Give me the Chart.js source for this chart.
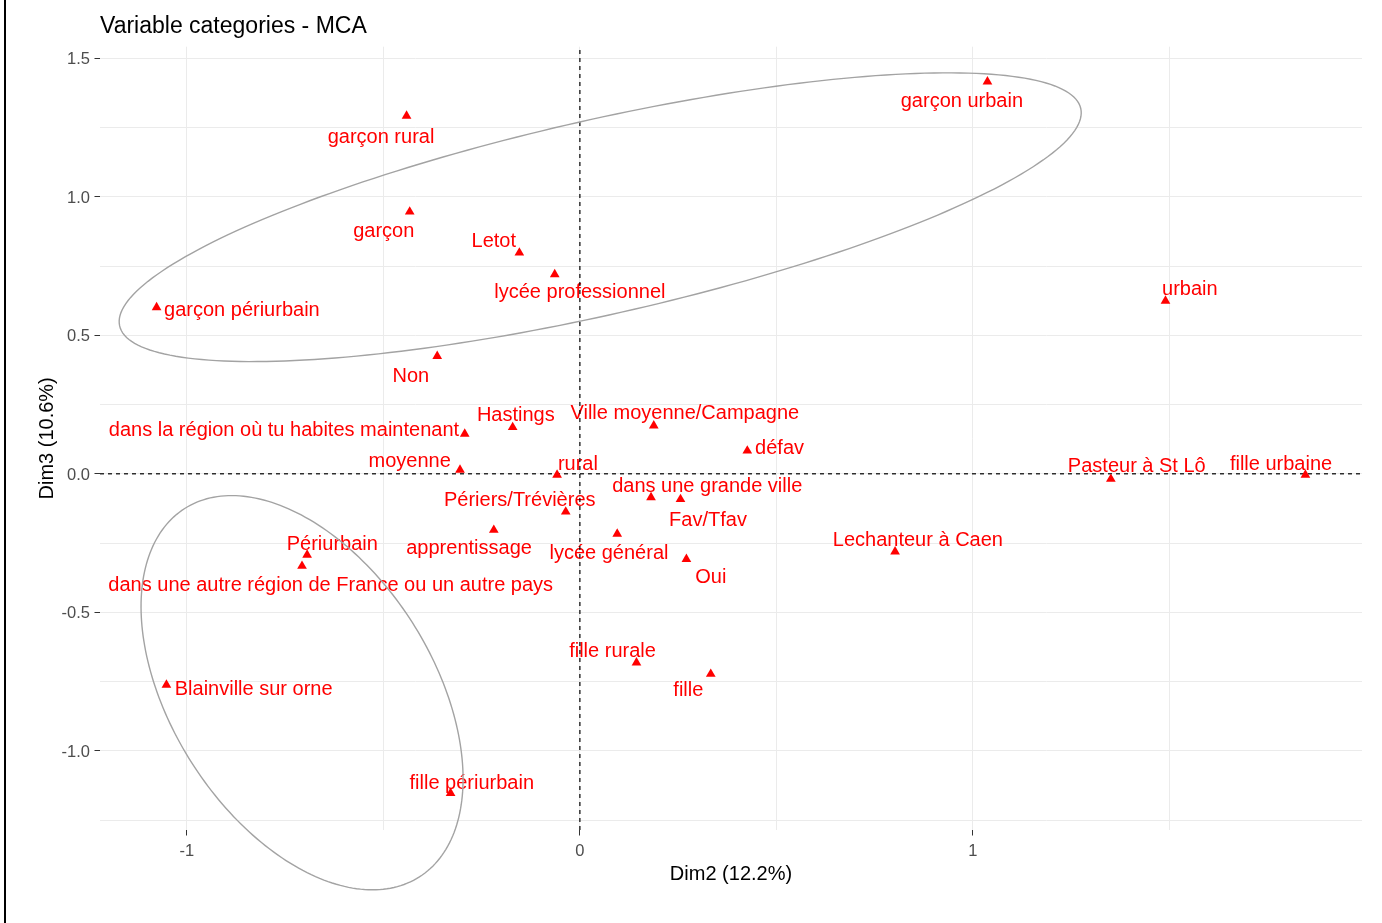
<!DOCTYPE html>
<html>
<head>
<meta charset="utf-8">
<title>Variable categories - MCA</title>
<script src="https://cdn.jsdelivr.net/npm/chart.js@4.4.1/dist/chart.umd.min.js"></script>
<style>
  html, body { margin: 0; padding: 0; background: #fff; }
  #wrap { position: relative; width: 1382px; height: 923px; }
  #frame { position: absolute; left: 4px; top: 0; width: 1.5px; height: 923px; background: #000; }
</style>
</head>
<body>
<div id="wrap">
  <canvas id="myChart" width="1382" height="923"></canvas>
  <div id="frame"></div>
</div>
<script>
'use strict';

// MCA variable categories, coordinates on Dim2 / Dim3
const categories = [
    'garçon urbain', 'garçon rural', 'garçon', 'Letot', 'lycée professionnel',
    'garçon périurbain', 'urbain', 'Non', 'dans la région où tu habites maintenant', 'Hastings',
    'Ville moyenne/Campagne', 'défav', 'moyenne', 'rural', 'Pasteur à St Lô',
    'fille urbaine', 'dans une grande ville', 'Fav/Tfav', 'Périers/Trévières', 'apprentissage',
    'lycée général', 'Oui', 'Lechanteur à Caen', 'Périurbain', 'dans une autre région de France ou un autre pays',
    'Blainville sur orne', 'fille rurale', 'fille', 'fille périurbain',
];
const dim2 = [
    1.037, -0.441, -0.433, -0.154, -0.064,
    -1.077, 1.490, -0.363, -0.293, -0.171,
    0.188, 0.426, -0.305, -0.058, 1.351,
    1.846, 0.181, 0.256, -0.036, -0.219,
    0.095, 0.271, 0.802, -0.694, -0.707,
    -1.052, 0.144, 0.333, -0.329,
];
const dim3 = [
    1.416, 1.292, 0.946, 0.798, 0.720,
    0.601, 0.624, 0.425, 0.144, 0.168,
    0.174, 0.083, 0.014, -0.004, -0.019,
    -0.004, -0.085, -0.092, -0.137, -0.203,
    -0.217, -0.308, -0.281, -0.293, -0.333,
    -0.762, -0.682, -0.723, -1.153,
];

// where the (repelled) text labels sit, same units
const labelDim2 = [
    0.972, -0.506, -0.499, -0.219, 0.000,
    -0.860, 1.552, -0.430, -0.753, -0.163,
    0.267, 0.508, -0.433, -0.005, 1.417,
    1.784, 0.324, 0.326, -0.153, -0.282,
    0.074, 0.333, 0.860, -0.630, -0.634,
    -0.830, 0.083, 0.276, -0.275,
];
const labelDim3 = [
    1.346, 1.215, 0.874, 0.838, 0.653,
    0.589, 0.664, 0.353, 0.158, 0.209,
    0.217, 0.092, 0.046, 0.035, 0.026,
    0.035, -0.047, -0.169, -0.095, -0.271,
    -0.287, -0.375, -0.239, -0.255, -0.405,
    -0.777, -0.642, -0.783, -1.117,
];

const xTicks = [-1, -0.5, 0, 0.5, 1, 1.5];
const xTickLabels = ['-1', '', '0', '', '1', ''];
const yTicks = [-1.25, -1, -0.75, -0.5, -0.25, 0, 0.25, 0.5, 0.75, 1, 1.25, 1.5];
const yTickLabels = ['', '-1.0', '', '-0.5', '', '0.0', '', '0.5', '', '1.0', '', '1.5'];

const xRange = [-1.221, 1.99];
const yRange = [-1.286, 1.542];

// confidence ellipses: centre + two conjugate semi-diameters (Dim2, Dim3 units)
const ellipses = [
    { cx: 0.0517, cy: 0.9264, ax: 1.2227, ay: 0.3926, bx: 0.0547, by: -0.3429 },
    { cx: -0.7069, cy: -0.7903, ax: 0.2986, ay: -0.6650, bx: -0.2805, by: -0.2535 },
];

const FONT = '"Liberation Sans", Arial, Helvetica, sans-serif';
Chart.defaults.font.family = FONT;

const isMajor = (labels, i) => labels[i] !== '';

// text labels next to the points
const labelPlugin = {
    id: 'mcaLabels',
    beforeDatasetsDraw(chart) {
        const { ctx, scales: { x, y } } = chart;
        ctx.save();
        ctx.font = '20px ' + FONT;
        ctx.fillStyle = '#ff0000';
        ctx.textAlign = 'center';
        ctx.textBaseline = 'middle';
        categories.forEach(function (c, i) {
            ctx.fillText(c, x.getPixelForValue(labelDim2[i]), y.getPixelForValue(labelDim3[i]));
        });
        ctx.restore();
    }
};

// group ellipses
const ellipsePlugin = {
    id: 'mcaEllipses',
    afterDatasetsDraw(chart) {
        const { ctx, scales: { x, y } } = chart;
        ctx.save();
        ctx.strokeStyle = '#a3a3a3';
        ctx.lineWidth = 1.4;
        ellipses.forEach(function (e) {
            ctx.beginPath();
            for (let k = 0; k <= 240; k++) {
                const t = k / 240 * 2 * Math.PI;
                const px = x.getPixelForValue(e.cx + Math.cos(t) * e.ax + Math.sin(t) * e.bx);
                const py = y.getPixelForValue(e.cy + Math.cos(t) * e.ay + Math.sin(t) * e.by);
                if (k === 0) ctx.moveTo(px, py); else ctx.lineTo(px, py);
            }
            ctx.closePath();
            ctx.stroke();
        });
        ctx.restore();
    }
};

let ctx = document.getElementById('myChart').getContext('2d');
let myChart = new Chart(ctx, {
    type: 'scatter',
    data: {
        datasets: [
            {
                label: 'categories',
                data: categories.map((c, i) => ({ x: dim2[i], y: dim3[i] })),
                pointStyle: 'triangle',
                pointRadius: 5.6,
                pointBorderWidth: 0,
                backgroundColor: '#ff0000',
                borderColor: '#ff0000',
            }, {
                // vertical reference line at Dim2 = 0
                data: [{ x: 0, y: yRange[0] }, { x: 0, y: yRange[1] }],
                showLine: true,
                borderColor: '#000',
                borderWidth: 1.2,
                borderDash: [4, 4],
                pointRadius: 0,
            }, {
                // horizontal reference line at Dim3 = 0
                data: [{ x: xRange[0], y: 0 }, { x: xRange[1], y: 0 }],
                showLine: true,
                borderColor: '#000',
                borderWidth: 1.2,
                borderDash: [4, 4],
                pointRadius: 0,
            }
        ]
    },
    options: {
        responsive: false,
        animation: false,
        devicePixelRatio: 1,
        layout: { padding: { top: 0, left: 0, right: 20, bottom: 0 } },
        plugins: {
            legend: { display: false },
            tooltip: { enabled: false },
            title: {
                display: true,
                text: 'Variable categories - MCA',
                align: 'start',
                fullSize: false,
                color: '#000',
                font: { size: 23, weight: 'normal' },
                padding: { top: 13.2, bottom: 5.9 },
            },
        },
        scales: {
            x: {
                type: 'linear',
                min: xRange[0],
                max: xRange[1],
                afterBuildTicks: function (s) { s.ticks = xTicks.map(v => ({ value: v })); },
                afterFit: function (s) { s.height = 93; },
                border: { display: false },
                grid: {
                    color: '#ebebeb',
                    lineWidth: 1,
                    tickLength: 5.5,
                    tickWidth: 1,
                    tickColor: c => isMajor(xTickLabels, c.index) ? '#333333' : 'rgba(0,0,0,0)',
                },
                ticks: {
                    autoSkip: false,
                    maxRotation: 0,
                    padding: 6.5,
                    color: '#4d4d4d',
                    font: { size: 16.5 },
                    callback: (v, i) => xTickLabels[i],
                },
                title: {
                    display: true,
                    text: 'Dim2 (12.2%)',
                    color: '#000',
                    font: { size: 20 },
                    padding: { top: 0, bottom: 37 },
                },
            },
            y: {
                type: 'linear',
                min: yRange[0],
                max: yRange[1],
                afterBuildTicks: function (s) { s.ticks = yTicks.map(v => ({ value: v })); },
                afterFit: function (s) { s.width = 100; },
                border: { display: false },
                grid: {
                    color: '#ebebeb',
                    lineWidth: 1,
                    tickLength: 5.5,
                    tickWidth: 1,
                    tickColor: c => isMajor(yTickLabels, c.index) ? '#333333' : 'rgba(0,0,0,0)',
                },
                ticks: {
                    autoSkip: false,
                    padding: 4.5,
                    labelOffset: 1.5,
                    color: '#4d4d4d',
                    font: { size: 16.5 },
                    callback: (v, i) => yTickLabels[i],
                },
                title: {
                    display: true,
                    text: 'Dim3 (10.6%)',
                    color: '#000',
                    font: { size: 20 },
                    padding: { top: 35, bottom: 0 },
                },
            }
        }
    },
    plugins: [labelPlugin, ellipsePlugin],
});
</script>
</body>
</html>
